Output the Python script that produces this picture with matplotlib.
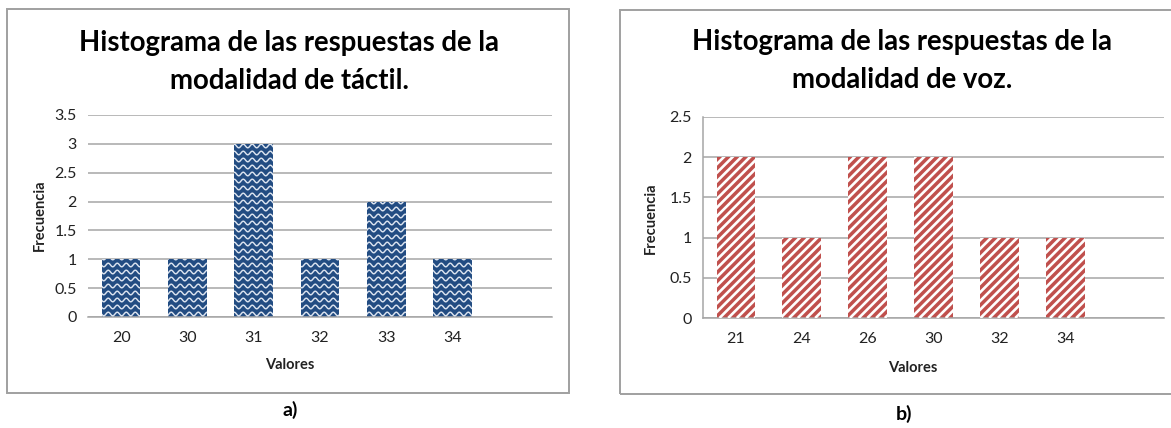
import numpy as np
import matplotlib
matplotlib.use("Agg")
import matplotlib.pyplot as plt
from matplotlib.patches import Rectangle
from matplotlib.collections import LineCollection

plt.rcParams['font.family'] = ['Lato', 'DejaVu Sans']

# data
tactil_vals = ['20', '30', '31', '32', '33', '34', '']
tactil_freq = [1, 1, 3, 1, 2, 1, 0]
voz_vals = ['21', '24', '26', '30', '32', '34', '']
voz_freq = [2, 1, 2, 2, 1, 1, 0]

title_a = 'Histograma de las respuestas de la\nmodalidad de táctil.'
title_b = 'Histograma de las respuestas de la\nmodalidad de voz.'

W, H = 1171, 428
fig = plt.figure(figsize=(W / 100, H / 100), dpi=100)

def fx(px):
    return px / W

def fy(py):
    return 1 - py / H

grid_c = '#a6a6a6'
navy = '#224c82'
red = '#c0504d'

# panel frames
fig.patches.append(Rectangle((fx(7), fy(393)), fx(569 - 7), (393 - 9) / H,
                             transform=fig.transFigure, fill=False,
                             edgecolor='#a0a0a0', linewidth=1.4))
fig.patches.append(Rectangle((fx(620), fy(394)), fx(1200 - 620), (394 - 10) / H,
                             transform=fig.transFigure, fill=False,
                             edgecolor='#a0a0a0', linewidth=1.4))


def setup(ax, labels, ymax, left_line):
    ax.set_xlim(-0.5, len(labels) - 0.5)
    ax.set_ylim(0, ymax)
    ax.set_yticks(np.arange(0, ymax + 0.01, 0.5))
    ax.set_yticklabels(['%g' % v for v in np.arange(0, ymax + 0.01, 0.5)])
    ax.set_xticks(range(len(labels)))
    ax.set_xticklabels(labels)
    ax.tick_params(length=0, labelsize=11.5, colors='#222222')
    ax.tick_params(axis='y', pad=8)
    ax.tick_params(axis='x', pad=10)
    ax.grid(axis='y', color=grid_c, linewidth=1.1)
    ax.set_axisbelow(True)
    for s in ['top', 'right']:
        ax.spines[s].set_visible(False)
    ax.spines['left'].set_visible(left_line)
    ax.spines['left'].set_color(grid_c)
    ax.spines['bottom'].set_color(grid_c)
    ax.spines['bottom'].set_linewidth(1.1)
    ax.spines['left'].set_linewidth(1.1)


def pattern(ax, bars, rows, color, lw):
    for b in bars:
        lc = LineCollection(rows, colors=color, linewidths=lw,
                            transform=ax.transAxes, zorder=3)
        ax.add_collection(lc)
        lc.set_clip_path(b)


# a) tactil
aw1, ah1 = 552 - 88, 317 - 115
ax1 = fig.add_axes([fx(88), fy(317), fx(aw1), ah1 / H])
bars1 = ax1.bar(range(len(tactil_vals)), tactil_freq, width=0.58, color=navy, zorder=2)
setup(ax1, tactil_vals, 3.5, False)

# wavy light pattern inside the blue bars
xs = np.arange(0, aw1 + 1, 0.5)
waves = []
for y0 in np.arange(3, ah1, 7.0):
    ys = y0 + 1.8 * np.sin(2 * np.pi * xs / 9.0)
    waves.append(np.column_stack([xs / aw1, ys / ah1]))
pattern(ax1, bars1, waves, '#dbe3ef', 1.05)

# b) voz
aw2, ah2 = 1164 - 703, 318 - 117
ax2 = fig.add_axes([fx(703), fy(318), fx(aw2), ah2 / H])
bars2 = ax2.bar(range(len(voz_vals)), voz_freq, width=0.59, color=red, zorder=2)
setup(ax2, voz_vals, 2.5, True)

# diagonal white stripes inside the red bars
stripes = []
for x0 in np.arange(-ah2, aw2, 8.7):
    stripes.append([(x0 / aw2, 0), ((x0 + ah2) / aw2, 1)])
pattern(ax2, bars2, stripes, 'white', 1.9)

# titles and axis labels
tkw = dict(ha='center', va='center', fontsize=19.8, fontweight='bold',
           linespacing=1.55, color='black')
fig.text(fx(289), fy(62), title_a, **tkw)
fig.text(fx(902), fy(61), title_b, **tkw)

lkw = dict(ha='center', va='center', fontsize=10.5, fontweight='bold', color='#222222')
fig.text(fx(290), fy(365), 'Valores', **lkw)
fig.text(fx(913), fy(368), 'Valores', **lkw)
fig.text(fx(40), fy(215), 'Frecuencia', rotation=90, **lkw)
fig.text(fx(651), fy(218), 'Frecuencia', rotation=90, **lkw)

fig.text(fx(290), fy(410), 'a)', ha='center', va='center', fontsize=14, fontweight='bold')
fig.text(fx(904), fy(414), 'b)', ha='center', va='center', fontsize=14, fontweight='bold')

fig.savefig('out.png', dpi=100)
